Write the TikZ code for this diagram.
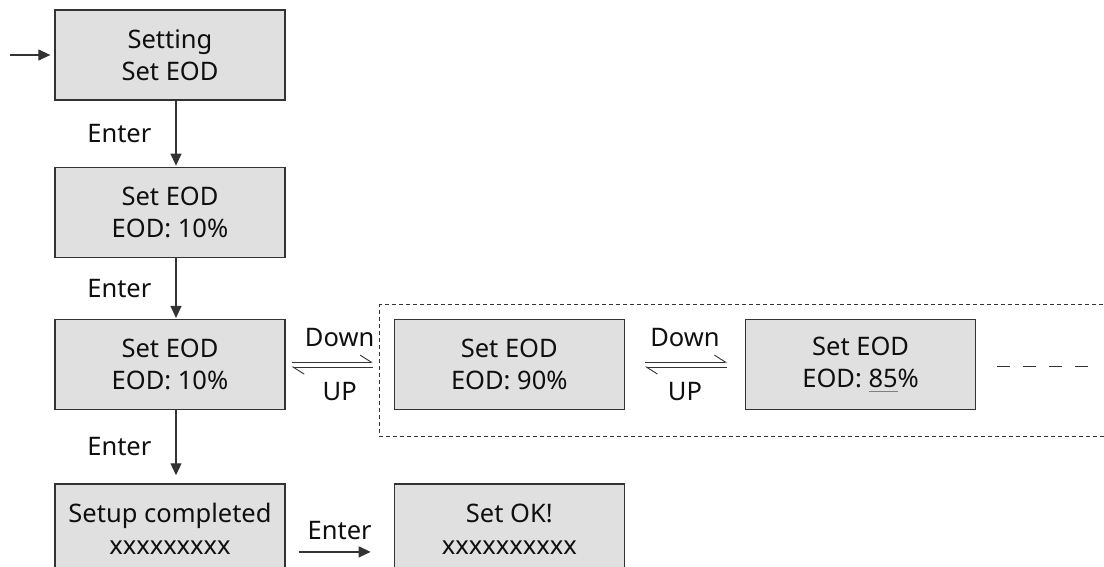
\documentclass[tikz,border=0pt]{standalone}
\usepackage{fontspec}
\setmainfont{Noto Sans}
\usepackage{xcolor}
\definecolor{caixa}{RGB}{224,224,224}
\definecolor{borda}{RGB}{51,51,51}
\definecolor{texto}{RGB}{15,15,15}
\usepackage{tikz}
\usetikzlibrary{arrows.meta, positioning, backgrounds}

% gray underline under a digit group
\newcommand{\sublinha}[1]{{\setbox0\hbox{#1}\rlap{\color{gray}\rule[-5pt]{\wd0}{1.2pt}}\box0}}

\begin{document}
\begin{tikzpicture}[
    x=1pt, y=-1pt,
    font=\fontsize{25.5pt}{32pt}\selectfont,
    tela/.style={
      rectangle, draw=borda, line width=1.3pt, fill=caixa,
      minimum width=230pt, minimum height=90pt,
      align=center, text=texto, inner sep=0pt
    },
    arrow/.style={-{Triangle[length=12pt, width=11pt]}, line width=1.2pt, color=borda},
    harp/.style={-{Straight Barb[left, length=11pt, width=14pt]}, line width=0.9pt, color=borda},
    rotulo/.style={text=texto, inner sep=0pt},
    group/.style={draw=borda, line width=1pt, dash pattern=on 4pt off 3pt}
  ]
  \path[use as bounding box, clip] (0,0) rectangle (1104,567);

  % Left column
  \node[tela] (setting) at (170,55) {Setting\\Set EOD};
  \node[tela, below=66pt of setting] (eod1) {Set EOD\\EOD: 10\%};
  \node[tela, below=61pt of eod1]    (eod2) {Set EOD\\EOD: 10\%};
  \node[tela, below=73pt of eod2]    (done) {Setup completed\\xxxxxxxxx};
  \node[tela, right=108pt of done]   (ok)   {Set OK!\\xxxxxxxxxx};

  % Adjust row
  \node[tela, right=108pt of eod2] (eod90) {Set EOD\\EOD: 90\%};
  \node[tela, right=120pt of eod90] (eod85) {Set EOD\\EOD: \sublinha{85}\%};
  \coordinate[right=21pt of eod85] (mais);

  % Entry and Enter arrows
  \coordinate (inicio) at (10,55);
  \draw[arrow, shorten >=4pt] (inicio) -- (setting.west);
  \draw[arrow, shorten >=1pt] ([xshift=6pt]setting.south) -- node[rotulo, left=24pt] {Enter} ([xshift=6pt]eod1.north);
  \draw[arrow, shorten >=1pt] ([xshift=6pt]eod1.south) -- node[rotulo, left=24pt] {Enter} ([xshift=6pt]eod2.north);
  \draw[arrow, shorten >=8pt] ([xshift=6pt]eod2.south) -- node[rotulo, left=24pt] {Enter} ([xshift=6pt]done.north);
  \draw[arrow, shorten <=13pt, shorten >=23pt] ([yshift=-23pt]done.east) -- node[rotulo, above=12pt] {Enter} ([yshift=-23pt]ok.west);

  % Down / UP harpoons
  \draw[harp, shorten <=6pt, shorten >=21pt] ([yshift=2.5pt]eod2.east) -- node[rotulo, above=15pt] (down1) {Down} ([yshift=2.5pt]eod90.west);
  \draw[harp, shorten <=21pt, shorten >=6pt] ([yshift=-2.5pt]eod90.west) -- node[rotulo, below=15pt] (up1) {UP} ([yshift=-2.5pt]eod2.east);
  \draw[harp, shorten <=20pt, shorten >=18pt] ([yshift=2.5pt]eod90.east) -- node[rotulo, above=15pt] (down2) {Down} ([yshift=2.5pt]eod85.west);
  \draw[harp, shorten <=18pt, shorten >=20pt] ([yshift=-2.5pt]eod85.west) -- node[rotulo, below=15pt] (up2) {UP} ([yshift=-2.5pt]eod90.east);

  % more values
  \draw[line width=1pt, color=borda, dash pattern=on 13pt off 13pt] ([yshift=-1.5pt]mais) -- ++(93,0);

  % Dashed frame, open to the right
  \begin{scope}[on background layer]
    \draw[group] ([shift={(1110,-14)}]eod90.north west -| 0,0) -- ([shift={(-14,-14)}]eod90.north west)
      -- ([shift={(-14,26)}]eod90.south west) -- ([shift={(1110,26)}]eod90.south west -| 0,0);
  \end{scope}

\end{tikzpicture}
\end{document}
